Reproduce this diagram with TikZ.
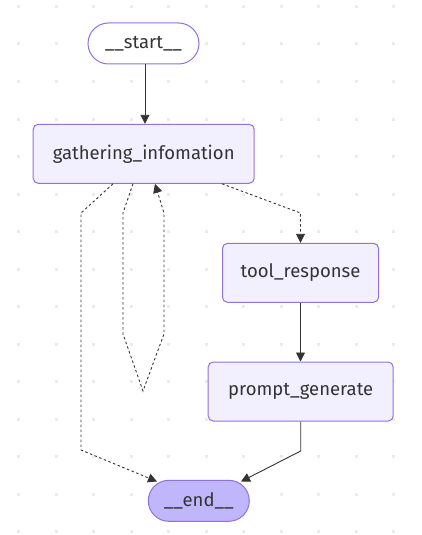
\documentclass[tikz,border=0pt]{standalone}
\usepackage{fontspec}
\setmainfont{Fira Sans}
\usepackage{tikz}
\usetikzlibrary{arrows.meta,positioning}
\definecolor{lgfill}{HTML}{F2F0FF}
\definecolor{lgline}{HTML}{9370DB}
\definecolor{lgend}{HTML}{BFB6FC}
\definecolor{lgedge}{HTML}{333333}
\definecolor{lgdot}{HTML}{EBEBEB}

\begin{document}
\begin{tikzpicture}[x=1pt,y=-1pt,
    stepbox/.style={draw=lgline,fill=lgfill,line width=1pt,rounded corners=5pt,
      minimum height=59pt,inner sep=0pt,text=lgedge,font=\fontsize{18.5}{20}\selectfont},
    pill/.style={draw=lgline,line width=1pt,rounded corners=20.5pt,
      minimum height=41pt,inner sep=0pt,text=lgedge,font=\fontsize{18.5}{20}\selectfont},
    edge/.style={draw=lgedge,line width=0.9pt,-{Triangle[length=9pt,width=9pt]}},
    cond/.style={edge,dash pattern=on 2.5pt off 2.5pt}]
  \useasboundingbox (0,0) rectangle (422,535);
  % background dots
  \foreach \i in {0,...,10}
    \foreach \j in {0,...,14}
      \fill[lgdot] (18.75+37.5*\i-1.5,6.5+37.5*\j-1.5) rectangle ++(3,3);
  % nodes
  \node[pill,fill=white,minimum width=111pt] (start) at (143.5,43.5) {\_\_start\_\_};
  \node[stepbox,minimum width=221pt] (gather) at (143.7,153.8) {gathering\_infomation};
  \node[stepbox,minimum width=156pt] (tool) at (300.5,272.8) {tool\_response};
  \node[stepbox,minimum width=185pt] (prompt) at (300.7,391.5) {prompt\_generate};
  \node[pill,fill=lgend,minimum width=101pt] (end) at (198.8,500.8) {\_\_end\_\_};
  % edges
  \draw[edge] (start.south -| 145,0) -- (gather.north -| 145,0);
  \draw[cond] (gather.south -| 113,0) -- (81,213) -- (81,450) -- (157,481.5);
  \draw[cond] (gather.south -| 133,0) -- (123,213) -- (123,334) -- (143,391)
    -- (164,334) -- (164,213) -- (gather.south -| 155,0);
  \draw[cond] (gather.south -| 222,0) -- (300.5,213) -- (tool.north);
  \draw[edge] (tool.south) -- (prompt.north -| tool.south);
  \draw[edge] (prompt.south) -- (300.7,451) -- (241,481.5);
\end{tikzpicture}
\end{document}
